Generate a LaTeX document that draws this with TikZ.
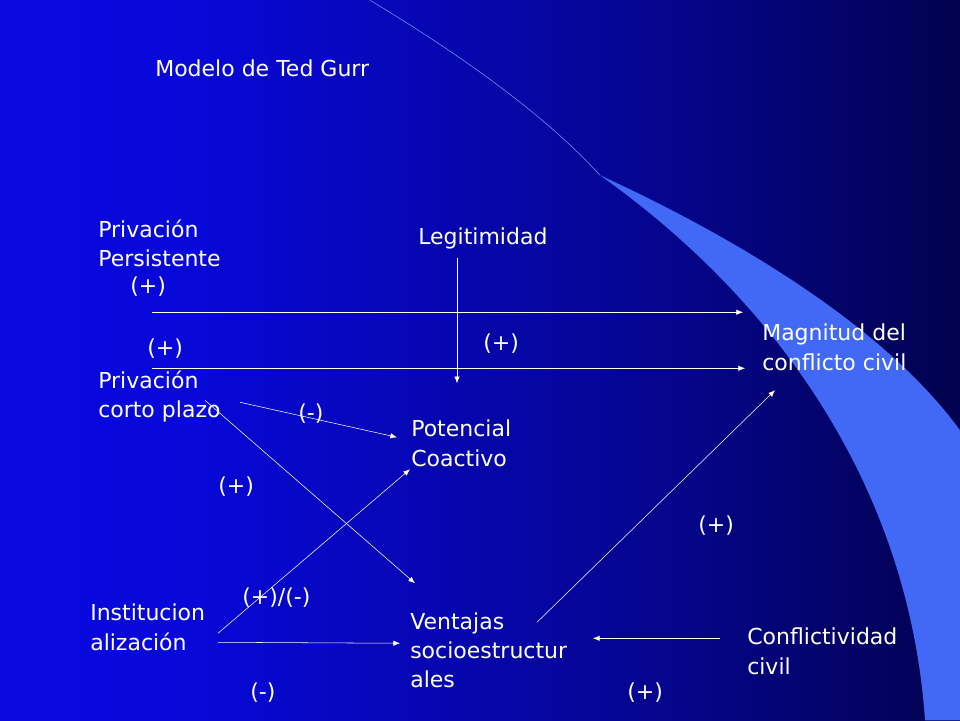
\documentclass[tikz,border=0pt]{standalone}
\usepackage{fontspec}
\setmainfont{DejaVu Sans}
\usetikzlibrary{arrows.meta}
\pgfdeclarehorizontalshading{slide}{100bp}{rgb(0bp)=(0.05,0.05,0.95); rgb(35bp)=(0.03,0.03,0.85); rgb(60bp)=(0.02,0.02,0.55); rgb(82bp)=(0,0,0.2); rgb(100bp)=(0,0,0)}
\definecolor{swoosh}{RGB}{65,105,245}
\begin{document}
\begin{tikzpicture}[x = 0.75pt, y = -0.75pt, > = {Latex[length=5pt, width=4pt]},
	txt/.style = {text = white, font = \fontsize{16.5}{22}\selectfont, align = left, anchor = west, inner sep = 0},
	link/.style = {->, white, thin}]

	% Background + swoosh

	\shade [shading = slide] (0, 0) rectangle (960, 720);
	\fill [swoosh] (600, 175) .. controls (790, 310) and (910, 500) .. (925, 720) -- (960, 720) -- (960, 430) .. controls (880, 320) and (720, 230) .. cycle;
	\draw [swoosh!70, thin] (370, 0) .. controls (470, 60) and (550, 120) .. (600, 175);

	% Texts

	\node [txt] (title) at (155, 68) {Modelo de Ted Gurr};
	\node [txt] (pers) at (98, 243) {Privación\\Persistente};
	\node [txt] (legit) at (418, 238) {Legitimidad};
	\node [txt] (magn) at (762, 347) {Magnitud del\\conflicto civil};
	\node [txt] (corto) at (98, 396) {Privación\\corto plazo};
	\node [txt] (coact) at (411, 443) {Potencial\\Coactivo};
	\node [txt] (inst) at (90, 627) {Institucion\\alización};
	\node [txt] (vent) at (410, 650) {Ventajas\\socioestructur\\ales};
	\node [txt] (confl) at (747, 651) {Conflictividad\\civil};

	\node [txt] (s1) at (130, 286) {(+)};
	\node [txt] (s2) at (483, 343) {(+)};
	\node [txt] (s3) at (147, 348) {(+)};
	\node [txt] (s4) at (298, 413) {(-)};
	\node [txt] (s5) at (218, 486) {(+)};
	\node [txt] (s6) at (698, 525) {(+)};
	\node [txt] (s7) at (242, 597) {(+)/(-)};
	\node [txt] (s8) at (250, 692) {(-)};
	\node [txt] (s9) at (627, 692) {(+)};

	% Arrow ends

	\coordinate (a1) at (152, 312);  \coordinate (b1) at (743, 312);
	\coordinate (a2) at (152, 368);  \coordinate (b2) at (745, 368);
	\coordinate (a3) at (457, 258);  \coordinate (b3) at (457, 383);
	\coordinate (a4) at (240, 402);  \coordinate (b4) at (397, 437);
	\coordinate (a5) at (205, 400);  \coordinate (b5) at (415, 583);
	\coordinate (a6) at (218, 633);  \coordinate (b6) at (410, 469);
	\coordinate (a7) at (218, 642);  \coordinate (b7) at (400, 643);
	\coordinate (a8) at (720, 638);  \coordinate (b8) at (593, 638);
	\coordinate (a9) at (537, 622);  \coordinate (b9) at (775, 390);

	\foreach \i in {1, ..., 9}
		\draw [link] (a\i) -- (b\i);

\end{tikzpicture}
\end{document}
